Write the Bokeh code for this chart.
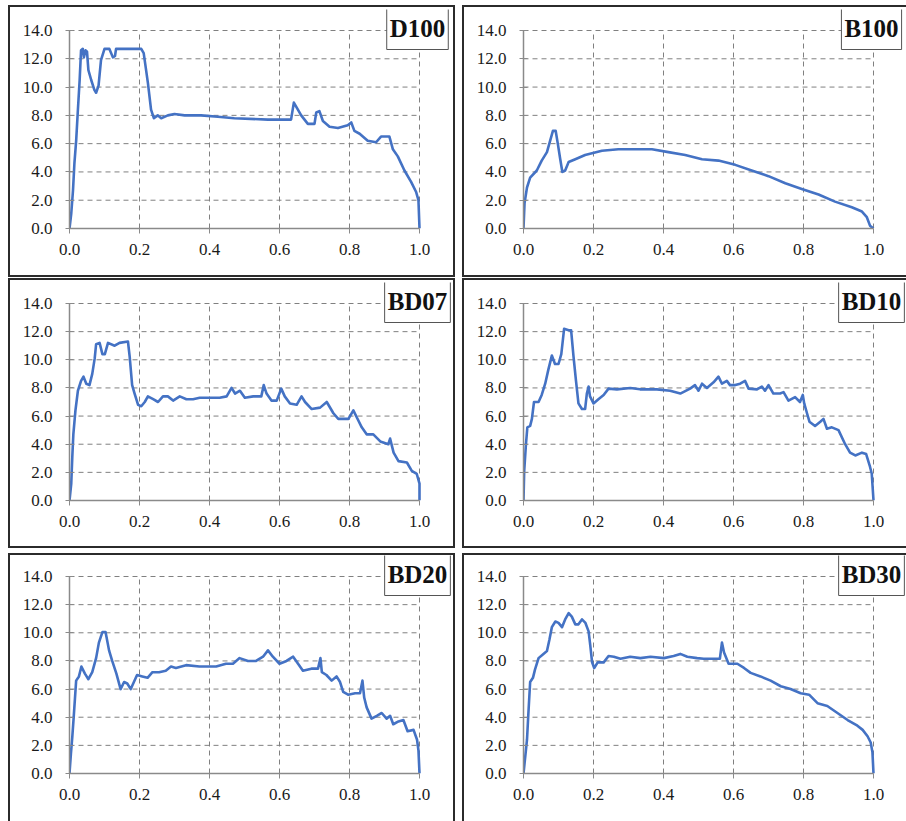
from bokeh.plotting import figure
from bokeh.layouts import row, column
from bokeh.models import Range1d, FixedTicker, PrintfTickFormatter, Label, Spacer
from bokeh.embed import file_html
from bokeh.resources import INLINE

# ---------------- data ----------------
x_ticks = [0.0, 0.2, 0.4, 0.6, 0.8, 1.0]
y_ticks = [0, 2, 4, 6, 8, 10, 12, 14]
panel_names = ["D100", "B100", "BD07", "BD10", "BD20", "BD30"]

D100_x = [0, 0.005, 0.01, 0.014, 0.019, 0.024, 0.029, 0.033, 0.038, 0.041, 0.046, 0.05, 0.054,
          0.062, 0.071, 0.076, 0.083, 0.09, 0.1, 0.114, 0.124, 0.13, 0.133, 0.205, 0.212, 0.224,
          0.233, 0.241, 0.252, 0.262, 0.281, 0.3, 0.329, 0.376, 0.424, 0.471, 0.567, 0.633, 0.641,
          0.648, 0.662, 0.681, 0.7, 0.705, 0.714, 0.724, 0.743, 0.767, 0.795, 0.805, 0.814, 0.829,
          0.852, 0.876, 0.89, 0.914, 0.924, 0.938, 0.957, 0.976, 0.99, 0.997, 1.0]
D100_y = [0, 1.06, 2.7, 4.6, 6.2, 8.4, 10.5, 12.6, 12.7, 12.1, 12.6, 12.5, 11.2,
          10.5, 9.8, 9.6, 10.1, 11.9, 12.7, 12.7, 12.1, 12.2, 12.7, 12.7, 12.4, 10.3,
          8.4, 7.8, 8.0, 7.8, 8.0, 8.1, 8.0, 8.0, 7.9, 7.8, 7.7, 7.7, 8.9,
          8.6, 8.0, 7.4, 7.4, 8.2, 8.3, 7.6, 7.2, 7.1, 7.3, 7.5, 6.9, 6.7,
          6.2, 6.1, 6.5, 6.5, 5.6, 5.1, 4.1, 3.3, 2.6, 2.0, 0]

B100_x = [0, 0.003, 0.01, 0.019, 0.038, 0.052, 0.067, 0.076, 0.084, 0.092, 0.098, 0.105, 0.111,
          0.119, 0.129, 0.148, 0.176, 0.224, 0.271, 0.319, 0.367, 0.414, 0.462, 0.51, 0.557,
          0.605, 0.652, 0.7, 0.748, 0.795, 0.843, 0.89, 0.938, 0.967, 0.981, 0.99, 1.0]
B100_y = [0, 1.8, 2.9, 3.6, 4.1, 4.8, 5.4, 6.2, 6.9, 6.9, 6.0, 4.9, 4.0,
          4.1, 4.7, 4.9, 5.2, 5.5, 5.6, 5.6, 5.6, 5.4, 5.2, 4.9, 4.8,
          4.5, 4.1, 3.7, 3.2, 2.8, 2.4, 1.9, 1.5, 1.2, 0.8, 0.2, 0]

BD07_x = [0, 0.005, 0.008, 0.011, 0.017, 0.024, 0.033, 0.04, 0.048, 0.057, 0.065, 0.072, 0.076,
          0.086, 0.094, 0.101, 0.11, 0.129, 0.143, 0.167, 0.172, 0.179, 0.186, 0.196, 0.205,
          0.215, 0.224, 0.239, 0.253, 0.267, 0.281, 0.296, 0.315, 0.334, 0.353, 0.372, 0.401,
          0.429, 0.449, 0.463, 0.473, 0.487, 0.501, 0.525, 0.548, 0.555, 0.563, 0.577, 0.592,
          0.605, 0.615, 0.63, 0.649, 0.663, 0.673, 0.692, 0.716, 0.735, 0.754, 0.768, 0.797,
          0.811, 0.821, 0.835, 0.849, 0.868, 0.888, 0.911, 0.916, 0.926, 0.94, 0.964, 0.978,
          0.992, 1.0, 1.0]
BD07_y = [0, 1.2, 3.1, 4.7, 6.4, 7.8, 8.5, 8.8, 8.3, 8.2, 9.0, 10.1, 11.1,
          11.2, 10.4, 10.4, 11.2, 11.0, 11.2, 11.3, 10.2, 8.2, 7.6, 6.8, 6.7,
          7.0, 7.4, 7.2, 7.0, 7.4, 7.4, 7.1, 7.4, 7.2, 7.2, 7.3, 7.3,
          7.3, 7.4, 8.0, 7.6, 7.8, 7.3, 7.4, 7.4, 8.2, 7.6, 7.1, 7.1,
          7.95, 7.4, 6.9, 6.8, 7.4, 7.0, 6.5, 6.6, 7.0, 6.2, 5.8, 5.8,
          6.4, 5.9, 5.2, 4.7, 4.7, 4.2, 4.0, 4.4, 3.4, 2.8, 2.7, 2.1,
          1.9, 1.2, 0]

BD10_x = [0, 0.002, 0.007, 0.011, 0.019, 0.024, 0.03, 0.043, 0.052, 0.062, 0.071, 0.081, 0.09,
          0.1, 0.108, 0.116, 0.129, 0.136, 0.143, 0.15, 0.157, 0.167, 0.176, 0.181, 0.186,
          0.19, 0.2, 0.214, 0.229, 0.243, 0.267, 0.305, 0.333, 0.381, 0.419, 0.448, 0.476,
          0.49, 0.5, 0.51, 0.524, 0.543, 0.557, 0.567, 0.581, 0.59, 0.605, 0.619, 0.633,
          0.643, 0.667, 0.681, 0.69, 0.7, 0.714, 0.733, 0.743, 0.757, 0.776, 0.79, 0.798,
          0.802, 0.81, 0.817, 0.833, 0.848, 0.857, 0.867, 0.881, 0.9, 0.919, 0.933, 0.948,
          0.967, 0.979, 0.99, 0.995, 1.0]
BD10_y = [0, 2.1, 4.0, 5.2, 5.3, 5.8, 7.0, 7.0, 7.5, 8.3, 9.3, 10.3, 9.7,
          9.7, 10.4, 12.2, 12.1, 12.1, 10.2, 8.5, 6.9, 6.5, 6.5, 7.6, 8.1,
          7.4, 6.9, 7.2, 7.5, 7.95, 7.9, 8.0, 7.9, 7.9, 7.8, 7.6, 7.95,
          8.2, 7.8, 8.3, 8.0, 8.4, 8.8, 8.3, 8.5, 8.2, 8.2, 8.3, 8.5,
          7.95, 7.9, 8.1, 7.8, 8.2, 7.6, 7.6, 7.7, 7.1, 7.35, 7.0, 7.5,
          6.9, 6.2, 5.6, 5.3, 5.6, 5.8, 5.1, 5.2, 5.0, 4.0, 3.4, 3.2,
          3.4, 3.3, 2.4, 1.9, 0]

BD20_x = [0, 0.004, 0.008, 0.012, 0.019, 0.027, 0.034, 0.044, 0.054, 0.065, 0.076, 0.084, 0.094,
          0.103, 0.113, 0.122, 0.134, 0.146, 0.156, 0.165, 0.175, 0.184, 0.193, 0.208, 0.223,
          0.237, 0.256, 0.275, 0.29, 0.304, 0.333, 0.371, 0.419, 0.447, 0.467, 0.486, 0.51,
          0.533, 0.553, 0.567, 0.581, 0.6, 0.62, 0.639, 0.653, 0.667, 0.691, 0.71, 0.717,
          0.721, 0.734, 0.749, 0.763, 0.773, 0.782, 0.796, 0.816, 0.83, 0.837, 0.842, 0.849,
          0.863, 0.878, 0.892, 0.906, 0.916, 0.925, 0.94, 0.954, 0.966, 0.983, 0.993, 0.997, 1.0]
BD20_y = [0, 1.4, 2.6, 4.0, 6.6, 6.9, 7.6, 7.1, 6.7, 7.2, 8.2, 9.3, 10.05,
          10.05, 8.75, 8.0, 7.1, 6.0, 6.5, 6.4, 6.0, 6.5, 7.0, 6.9, 6.8,
          7.2, 7.2, 7.3, 7.6, 7.5, 7.7, 7.6, 7.6, 7.8, 7.8, 8.2, 8.0,
          8.0, 8.3, 8.75, 8.3, 7.8, 8.0, 8.3, 7.8, 7.3, 7.45, 7.45, 8.2,
          7.2, 7.0, 6.6, 6.9, 6.5, 5.8, 5.6, 5.7, 5.7, 6.6, 5.4, 4.7,
          3.9, 4.1, 4.3, 3.9, 4.1, 3.5, 3.7, 3.8, 3.0, 3.1, 2.4, 1.65, 0]

BD30_x = [0, 0.005, 0.01, 0.014, 0.019, 0.027, 0.033, 0.043, 0.057, 0.067, 0.074, 0.081, 0.091,
          0.1, 0.11, 0.119, 0.129, 0.138, 0.148, 0.157, 0.167, 0.177, 0.186, 0.191, 0.196,
          0.202, 0.212, 0.229, 0.243, 0.258, 0.277, 0.305, 0.334, 0.363, 0.401, 0.429, 0.448,
          0.468, 0.496, 0.515, 0.561, 0.567, 0.573, 0.586, 0.611, 0.63, 0.649, 0.677, 0.706,
          0.735, 0.763, 0.792, 0.816, 0.84, 0.868, 0.897, 0.926, 0.954, 0.969, 0.983, 0.992,
          0.997, 1.0]
BD30_y = [0, 1.2, 2.4, 4.3, 6.5, 6.8, 7.4, 8.2, 8.5, 8.7, 9.5, 10.4, 10.8,
          10.7, 10.4, 10.95, 11.4, 11.15, 10.6, 10.6, 10.95, 10.7, 10.1, 9.05, 7.9,
          7.5, 7.9, 7.9, 8.35, 8.3, 8.15, 8.3, 8.2, 8.3, 8.2, 8.35, 8.5,
          8.3, 8.2, 8.15, 8.15, 9.3, 8.6, 7.8, 7.8, 7.5, 7.15, 6.9, 6.6,
          6.2, 6.0, 5.7, 5.6, 5.0, 4.8, 4.3, 3.8, 3.4, 3.1, 2.65, 2.2,
          1.5, 0]

series = {
    "D100": (D100_x, D100_y), "B100": (B100_x, B100_y),
    "BD07": (BD07_x, BD07_y), "BD10": (BD10_x, BD10_y),
    "BD20": (BD20_x, BD20_y), "BD30": (BD30_x, BD30_y),
}

# ---------------- styling ----------------
LINE_COLOR = "#4472C4"
GRID_COLOR = "#808080"
AXIS_COLOR = "#8a8a8a"
SERIF = "Liberation Serif"
BORDER = "2px solid #2b2b2b"

X_MAX, Y_MAX = 1.0, 14.0
PLOT_W = 350          # px between x=0 and x=1
EXT_RIGHT = 34        # frame extends past x=1 to hold the name box
EXT_TOP = 21          # frame extends above y=14 to hold the name box

# rows: (host height, px between y=0 and y=14, min_border_top)
row_specs = [(272, 198, 2), (270, 197, 2), (268, 197, 0)]
# columns: (host width, min_border_left)
col_specs = [(447, 59), (444, 59)]


def make_panel(name, r, c):
    host_h, plot_h, top = row_specs[r]
    host_w, left = col_specs[c]
    frame_w = PLOT_W + EXT_RIGHT
    frame_h = plot_h + EXT_TOP
    right = host_w - left - frame_w
    bottom = host_h - top - frame_h
    xs, ys = series[name]

    styles = {"border": BORDER, "box-sizing": "border-box"}
    if c == 1:
        styles["border-right"] = "none"
    if r == 2:
        styles["border-bottom"] = "none"

    p = figure(width=host_w, height=host_h, output_backend="svg", toolbar_location=None,
               x_range=Range1d(0, X_MAX * frame_w / PLOT_W),
               y_range=Range1d(0, Y_MAX * frame_h / plot_h),
               min_border_left=left, min_border_right=max(right, 0),
               min_border_top=top, min_border_bottom=bottom,
               styles=styles)
    p.outline_line_color = None
    p.background_fill_color = "white"
    p.border_fill_color = "white"

    p.xaxis.ticker = FixedTicker(ticks=x_ticks)
    p.yaxis.ticker = FixedTicker(ticks=y_ticks)
    p.xaxis.formatter = PrintfTickFormatter(format="%.1f")
    p.yaxis.formatter = PrintfTickFormatter(format="%.1f")
    p.xaxis.bounds = (0, X_MAX)
    p.yaxis.bounds = (0, Y_MAX)
    for ax in (p.xaxis, p.yaxis):
        ax.axis_line_color = AXIS_COLOR
        ax.axis_line_width = 1.5
        ax.major_tick_line_color = AXIS_COLOR
        ax.minor_tick_line_color = None
        ax.major_label_text_font = SERIF
        ax.major_label_text_font_size = "17px"
        ax.major_label_text_color = "#1a1a1a"
    p.xaxis.major_tick_in = 0
    p.xaxis.major_tick_out = 5
    p.xaxis.major_label_standoff = 10
    p.yaxis.major_tick_in = 4
    p.yaxis.major_tick_out = 4
    p.yaxis.major_label_standoff = 13

    # dashed grid limited to the 0..1 x 0..14 area, built from the tick lists
    p.xgrid.grid_line_color = None
    p.ygrid.grid_line_color = None
    vx = [t for t in x_ticks if t > 0]
    hy = [t for t in y_ticks if t > 0]
    p.segment(x0=vx, y0=[0] * len(vx), x1=vx, y1=[Y_MAX] * len(vx),
              line_color=GRID_COLOR, line_dash="5 4", line_width=1)
    p.segment(x0=[0] * len(hy), y0=hy, x1=[X_MAX] * len(hy), y1=hy,
              line_color=GRID_COLOR, line_dash="5 4", line_width=1)

    p.line(xs, ys, line_color=LINE_COLOR, line_width=2.6, line_join="round")

    lab = Label(x=X_MAX, y=Y_MAX, x_units="data", y_units="data", text=name,
                text_font=SERIF, text_font_style="bold", text_font_size="25px",
                text_color="#111111", text_align="center", text_baseline="middle",
                x_offset=-2, y_offset=2.5,
                background_fill_color="white", border_line_color="#555555",
                border_line_width=1, padding=(3, 8))
    p.add_layout(lab)
    return p


panels = [make_panel(name, *divmod(i, 2)) for i, name in enumerate(panel_names)]


def panel_row(a, b):
    return row(Spacer(width=8), a, Spacer(width=7), b)


layout = column(
    Spacer(height=5),
    panel_row(panels[0], panels[1]),
    Spacer(height=1),
    panel_row(panels[2], panels[3]),
    Spacer(height=5),
    panel_row(panels[4], panels[5]),
)

open("out.html", "w").write(file_html(layout, INLINE))
